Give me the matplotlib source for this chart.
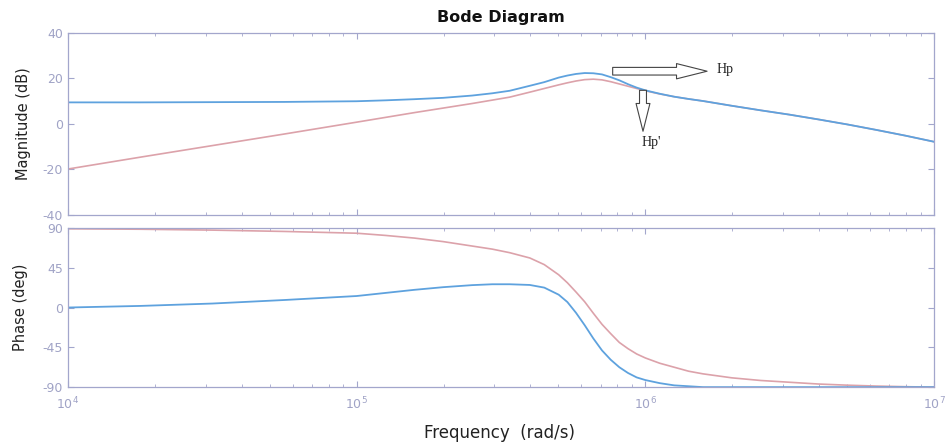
import numpy as np
import matplotlib
matplotlib.use("Agg")
import matplotlib.pyplot as plt
from matplotlib.ticker import LogLocator, NullFormatter

# ---- data (log10 of frequency in rad/s) ----
log_freq = [4.0, 4.25, 4.5, 4.75, 5.0, 5.1, 5.2, 5.3, 5.4, 5.47, 5.53, 5.6,
            5.65, 5.7, 5.73, 5.76, 5.79, 5.82, 5.85, 5.88, 5.91, 5.94, 5.97, 6.0,
            6.05, 6.1, 6.15, 6.2, 6.3, 6.4, 6.5, 6.6, 6.7, 6.8, 6.9, 7.0]

mag_hp = [9.5, 9.5, 9.6, 9.7, 10.0, 10.4, 10.9, 11.5, 12.5, 13.5, 14.6, 16.8,
          18.4, 20.4, 21.3, 22.0, 22.4, 22.3, 21.8, 20.6, 19.2, 17.5, 16.0, 14.8,
          13.3, 12.0, 11.0, 10.1, 8.0, 6.0, 4.1, 2.0, -0.2, -2.6, -5.1, -7.8]
mag_hp2 = [-19.8, -14.6, -9.5, -4.4, 0.8, 2.9, 5.0, 7.0, 9.0, 10.5, 11.8, 14.0,
           15.6, 17.2, 18.1, 18.9, 19.5, 19.7, 19.4, 18.6, 17.6, 16.6, 15.6, 14.6,
           13.2, 12.0, 11.0, 10.1, 8.0, 6.0, 4.1, 2.0, -0.2, -2.6, -5.1, -7.8]

phase_hp = [0.0, 1.8, 4.5, 8.5, 13.0, 16.5, 20.0, 23.0, 25.3, 26.3, 26.3, 25.5,
            22.5, 14.5, 6.2, -6.0, -20.0, -35.0, -48.5, -59.0, -67.5, -74.0, -79.0, -82.0,
            -85.5, -88.0, -89.0, -90.0, -90.0, -90.0, -90.0, -90.0, -90.0, -90.0, -90.0, -90.0]
phase_hp2 = [89.0, 88.5, 87.5, 86.0, 84.0, 81.5, 78.5, 74.5, 69.5, 66.0, 62.0, 56.0,
             48.5, 37.0, 28.0, 17.5, 6.5, -6.5, -19.0, -29.5, -39.5, -46.5, -52.5, -57.0,
             -63.0, -67.5, -72.0, -75.0, -79.5, -82.5, -84.5, -86.5, -87.8, -88.8, -89.5, -90.0]

mag_ticks = [-40, -20, 0, 20, 40]
phase_ticks = [-90, -45, 0, 45, 90]
series_names = ["Hp", "Hp'"]

# ---- styling ----
plt.rcParams['font.family'] = ['DejaVu Sans']
plt.rcParams['axes.unicode_minus'] = False
frame_col = '#a3a6cc'
tick_col = '#a0a3c6'
blue = '#5ea2de'
red = '#dca2aa'
text_col = '#222222'

freq = 10.0 ** np.array(log_freq)

fig = plt.figure(figsize=(9.48, 4.46), dpi=100)
ax_m = fig.add_axes([0.0717, 0.518, 0.9135, 0.408])
ax_p = fig.add_axes([0.0717, 0.132, 0.9135, 0.357])

for ax in (ax_m, ax_p):
    ax.set_xscale('log')
    ax.set_xlim(1e4, 1e7)
    for s in ax.spines.values():
        s.set_color(frame_col)
        s.set_linewidth(0.9)
    ax.tick_params(which='both', direction='in', top=True, right=True,
                   color=frame_col, labelcolor=tick_col, labelsize=9)
    ax.tick_params(which='major', length=4)
    ax.tick_params(which='minor', length=2.5)
    ax.xaxis.set_minor_locator(LogLocator(base=10, subs=np.arange(2, 10)))
    ax.xaxis.set_minor_formatter(NullFormatter())

ax_m.plot(freq, mag_hp2, color=red, lw=1.2)
ax_m.plot(freq, mag_hp, color=blue, lw=1.3)
ax_m.set_ylim(-40, 40)
ax_m.set_yticks(mag_ticks)
ax_m.tick_params(axis='x', which='both', labelbottom=False)
ax_m.set_ylabel('Magnitude (dB)', fontsize=10.5, color=text_col)
ax_m.yaxis.set_label_coords(-0.043, 0.5)
ax_m.set_title('Bode Diagram', fontsize=11.5, fontweight='bold', color='#111111', pad=8)

ax_p.plot(freq, phase_hp2, color=red, lw=1.2)
ax_p.plot(freq, phase_hp, color=blue, lw=1.3)
ax_p.set_ylim(-90, 90)
ax_p.set_yticks(phase_ticks)
ax_p.set_ylabel('Phase (deg)', fontsize=10.5, color=text_col)
ax_p.yaxis.set_label_coords(-0.046, 0.5)
ax_p.tick_params(axis='x', which='major', pad=6)

fig.text(500 / 948, 1 - 433 / 446, 'Frequency  (rad/s)', ha='center', va='center',
         fontsize=12, color=text_col)

# ---- annotations (hollow block arrows, serif labels) ----
arrow_kw = dict(fc='white', ec='#444444', lw=0.8, shrinkA=0, shrinkB=0,
                mutation_scale=10)
ax_m.annotate('', xy=(0.738, 0.79), xytext=(0.629, 0.79), xycoords='axes fraction',
              arrowprops=dict(arrowstyle='simple,head_length=2.2,head_width=1.1,tail_width=0.55',
                              **arrow_kw))
ax_m.text(0.749, 0.80, series_names[0], transform=ax_m.transAxes, ha='left', va='center',
          fontsize=10, family=['Liberation Serif', 'DejaVu Serif'], color=text_col)
ax_m.annotate('', xy=(0.664, 0.46), xytext=(0.664, 0.685), xycoords='axes fraction',
              arrowprops=dict(arrowstyle='simple,head_length=2.0,head_width=1.0,tail_width=0.5',
                              **arrow_kw))
ax_m.text(0.673, 0.40, series_names[1], transform=ax_m.transAxes, ha='center', va='center',
          fontsize=10, family=['Liberation Serif', 'DejaVu Serif'], color=text_col)

fig.savefig('out.png', dpi=100, facecolor='white')
